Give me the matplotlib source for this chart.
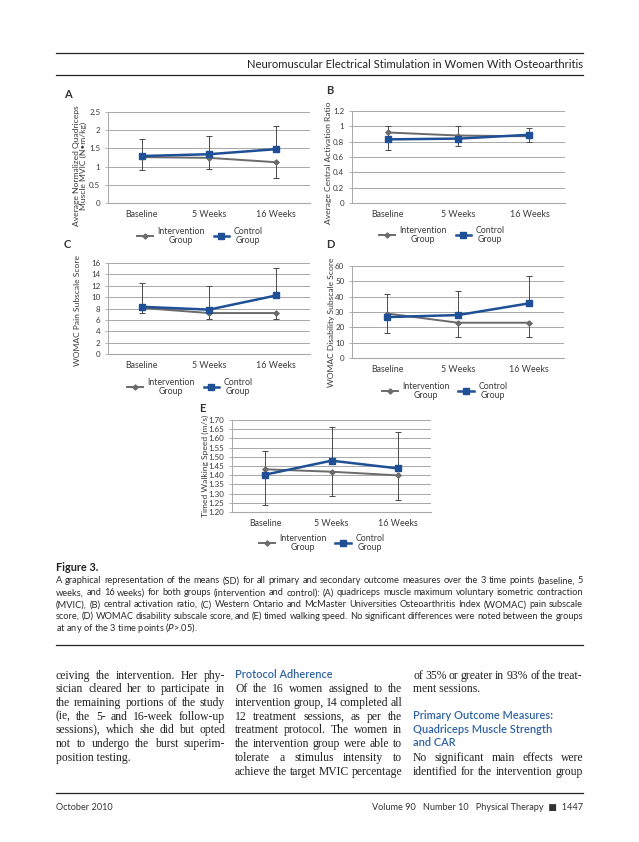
import matplotlib
matplotlib.use("Agg")
import matplotlib.pyplot as plt
from matplotlib.lines import Line2D

# ---------------- data ----------------
categories = ["Baseline", "5 Weeks", "16 Weeks"]
series_names = ["Intervention\nGroup", "Control\nGroup"]

A_int = [1.26, 1.24, 1.12]
A_int_sd = [0.34, 0.31, 0.42]
A_ctl = [1.29, 1.34, 1.48]
A_ctl_sd = [0.47, 0.49, 0.64]
A_ticks = [0, 0.5, 1, 1.5, 2, 2.5]
A_ticklabels = ["0", "0.5", "1", "1.5", "2", "2.5"]

B_int = [0.92, 0.88, 0.87]
B_int_sd = [0.235, 0.135, 0.08]
B_ctl = [0.83, 0.84, 0.89]
B_ctl_sd = [0.18, 0.16, 0.09]
B_ticks = [0, 0.2, 0.4, 0.6, 0.8, 1.0, 1.2]
B_ticklabels = ["0", "0.2", "0.4", "0.6", "0.8", "1", "1.2"]

C_int = [8.1, 7.2, 7.2]
C_int_sd = [0.95, 1.0, 1.0]
C_ctl = [8.3, 7.8, 10.3]
C_ctl_sd = [4.2, 4.1, 4.9]
C_ticks = [0, 2, 4, 6, 8, 10, 12, 14, 16]
C_ticklabels = [str(v) for v in C_ticks]

D_int = [29, 23, 23]
D_int_sd = [12.5, 9, 9]
D_ctl = [26.7, 28, 35.6]
D_ctl_sd = [15, 15.8, 17.8]
D_ticks = [0, 10, 20, 30, 40, 50, 60]
D_ticklabels = [str(v) for v in D_ticks]

E_int = [1.432, 1.419, 1.399]
E_int_sd = [0.196, 0.134, 0.136]
E_ctl = [1.403, 1.479, 1.437]
E_ctl_sd = [0.13, 0.185, 0.20]
E_ticks = [1.20, 1.25, 1.30, 1.35, 1.40, 1.45, 1.50, 1.55, 1.60, 1.65, 1.70]
E_ticklabels = ["%.2f" % v for v in E_ticks]

header_text = "Neuromuscular Electrical Stimulation in Women With Osteoarthritis"
caption_title = "Figure 3."
caption_lines = [
    "A graphical representation of the means (SD) for all primary and secondary outcome measures over the 3 time points (baseline, 5",
    "weeks, and 16 weeks) for both groups (intervention and control): (A) quadriceps muscle maximum voluntary isometric contraction",
    "(MVIC), (B) central activation ratio, (C) Western Ontario and McMaster Universities Osteoarthritis Index (WOMAC) pain subscale",
    "score, (D) WOMAC disability subscale score, and (E) timed walking speed. No significant differences were noted between the groups",
    "at any of the 3 time points ($\\mathit{P}$>.05).",
]
col1_lines = [
    "ceiving the intervention. Her phy-",
    "sician cleared her to participate in",
    "the remaining portions of the study",
    "(ie, the 5- and 16-week follow-up",
    "sessions), which she did but opted",
    "not to undergo the burst superim-",
    "position testing.",
]
col2_heading = "Protocol Adherence"
col2_lines = [
    "Of the 16 women assigned to the",
    "intervention group, 14 completed all",
    "12 treatment sessions, as per the",
    "treatment protocol. The women in",
    "the intervention group were able to",
    "tolerate a stimulus intensity to",
    "achieve the target MVIC percentage",
]
col3_lines_a = [
    "of 35% or greater in 93% of the treat-",
    "ment sessions.",
]
col3_heading = ["Primary Outcome Measures:", "Quadriceps Muscle Strength", "and CAR"]
col3_lines_b = [
    "No significant main effects were",
    "identified for the intervention group",
]
footer_left = "October 2010"
footer_right = "Volume 90   Number 10   Physical Therapy  \u25a0  1447"

# ---------------- layout ----------------
W, H = 639, 842
fig = plt.figure(figsize=(W / 100, H / 100), dpi=100)
fig.patch.set_facecolor("white")

SANS = ["Lato", "DejaVu Sans"]
SERIF = ["Liberation Serif", "DejaVu Serif"]
INT_COLOR = "#6b6b6b"
CTL_COLOR = "#1f4f94"
GRID = "#a8a8a8"
TXT = "#3a3a3a"
HEAD_BLUE = "#2f62a3"


def fx(x):
    return x / W


def fy(y):
    return 1 - y / H


def add_axes_px(left, top, right, bottom):
    return fig.add_axes([fx(left), fy(bottom), (right - left) / W, (bottom - top) / H])


def panel(box, letter, letter_xy, ylabel, ylabel_xy, vals, ticks, ticklabels, legend_xy):
    ai, ais, ac, acs = vals
    ax = add_axes_px(*box)
    xs = [i + 0.5 for i in range(len(categories))]
    zeros = [0] * len(categories)
    ax.set_xlim(0, len(categories))
    ax.set_ylim(ticks[0], ticks[-1])
    ax.set_yticks(ticks)
    ax.set_yticklabels(ticklabels, fontsize=5.8, color=TXT, family=SANS)
    ax.set_xticks(xs)
    ax.set_xticklabels(categories, fontsize=6.4, color=TXT, family=SANS)
    ax.tick_params(axis="x", length=0, pad=5)
    ax.tick_params(axis="y", length=2.5, width=0.6, color=GRID, pad=3)
    ax.grid(axis="y", color=GRID, lw=0.7)
    ax.set_axisbelow(True)
    for s in ["top", "right"]:
        ax.spines[s].set_visible(False)
    ax.spines["left"].set_color(GRID)
    ax.spines["left"].set_linewidth(0.7)
    ax.spines["bottom"].set_color(GRID)
    ax.spines["bottom"].set_linewidth(0.8)
    ax.errorbar(xs, ai, yerr=[ais, zeros], fmt="none", ecolor="#4a4a4a",
                elinewidth=0.7, capsize=2, capthick=0.7, zorder=2)
    ax.errorbar(xs, ac, yerr=[zeros, acs], fmt="none", ecolor="#4a4a4a",
                elinewidth=0.7, capsize=2, capthick=0.7, zorder=2)
    ax.plot(xs, ai, color=INT_COLOR, lw=1.4, marker="D", ms=2.6,
            mfc=INT_COLOR, mec=INT_COLOR, zorder=3)
    ax.plot(xs, ac, color=CTL_COLOR, lw=1.8, marker="s", ms=5,
            mfc=CTL_COLOR, mec=CTL_COLOR, zorder=4)
    fig.text(fx(letter_xy[0]), fy(letter_xy[1]), letter, fontsize=8, fontweight="bold",
             color="#333333", family=SANS, ha="left", va="center")
    fig.text(fx(ylabel_xy[0]), fy(ylabel_xy[1]), ylabel, fontsize=6.1, color=TXT,
             family=SANS, rotation=90, ha="center", va="center", multialignment="center",
             linespacing=1.1)
    handles = [
        Line2D([], [], color=INT_COLOR, lw=1.4, marker="D", ms=2.6),
        Line2D([], [], color=CTL_COLOR, lw=1.8, marker="s", ms=5),
    ]
    leg = ax.legend(handles, series_names, loc="center", ncol=2, frameon=False,
                    bbox_to_anchor=(fx(legend_xy[0]), fy(legend_xy[1])),
                    bbox_transform=fig.transFigure, prop={"family": SANS, "size": 6.3},
                    handlelength=1.8, handletextpad=0.5, columnspacing=1.0)
    for t in leg.get_texts():
        t.set_multialignment("center")
        t.set_color(TXT)
        t.set_linespacing(1.1)
    return ax


panel((108, 112, 310, 203), "A", (64, 94),
      "Average Normalized Quadriceps\nMuscle MVIC (N\u2022m/kg)", (80, 166),
      (A_int, A_int_sd, A_ctl, A_ctl_sd), A_ticks, A_ticklabels, (200, 236))
panel((352, 111, 565, 203), "B", (326, 90),
      "Average Central Activation Ratio", (328, 163),
      (B_int, B_int_sd, B_ctl, B_ctl_sd), B_ticks, B_ticklabels, (442, 235))
panel((108, 263, 310, 354), "C", (64, 245),
      "WOMAC Pain Subscale Score", (77, 311),
      (C_int, C_int_sd, C_ctl, C_ctl_sd), C_ticks, C_ticklabels, (190, 387))
panel((352, 266, 564, 358), "D", (326, 244),
      "WOMAC Disability Subscale Score", (332, 322),
      (D_int, D_int_sd, D_ctl, D_ctl_sd), D_ticks, D_ticklabels, (445, 391))
panel((232, 420, 431, 512), "E", (199, 408),
      "Timed Walking Speed (m/s)", (205, 466),
      (E_int, E_int_sd, E_ctl, E_ctl_sd), E_ticks, E_ticklabels, (322, 543))

# ---------------- page text ----------------
LM, RM = 56, 583
renderer = fig.canvas.get_renderer()


def hline(y, x0=LM, x1=RM, lw=0.9, color="#222222"):
    fig.add_artist(Line2D([fx(x0), fx(x1)], [fy(y), fy(y)], color=color, lw=lw,
                          transform=fig.transFigure))


_wcache = {}


def text_width(s, **kw):
    key = (s, tuple(sorted((k, str(v)) for k, v in kw.items())))
    if key not in _wcache:
        t = fig.text(0, 0, s, **kw)
        _wcache[key] = t.get_window_extent(renderer=renderer).width
        t.remove()
    return _wcache[key]


def space_width(**kw):
    return text_width("n n", **kw) - text_width("nn", **kw)


def fit_size(lines, width, min_gap=0.7, **kw):
    """Largest font size at which every line fits with gaps >= min_gap * space."""
    kw = dict(kw)
    kw["fontsize"] = 10
    sp = space_width(**kw)
    need = 0
    for l in lines:
        words = l.split()
        need = max(need, sum(text_width(w, **kw) for w in words) + (len(words) - 1) * sp * min_gap)
    return 10 * width / need


def justified(x0, x1, y, line, justify=True, **kw):
    size = kw["fontsize"]
    yb = y + size * 100 / 72 * 0.36  # baseline from visual centre
    words = line.split()
    if not justify or len(words) < 2:
        fig.text(fx(x0), fy(yb), line, ha="left", va="baseline", **kw)
        return
    widths = [text_width(w, **kw) for w in words]
    gap = (x1 - x0 - sum(widths)) / (len(words) - 1)
    x = x0
    for w, wd in zip(words, widths):
        fig.text(fx(x), fy(yb), w, ha="left", va="baseline", **kw)
        x += wd + gap


# header
hline(53)
hline(75)
fig.text(fx(RM), fy(64.5), header_text, ha="right", va="center", fontsize=8.1,
         color="#222222", family=SANS)

# caption
fig.text(fx(LM), fy(567.5), caption_title, ha="left", va="center", fontsize=7.8,
         fontweight="bold", color="#222222", family=SANS)
cap_base = dict(color="#2a2a2a", family=SANS)
cap_size = fit_size(caption_lines[:-1], RM - LM, min_gap=0.75, **cap_base)
cap_kw = dict(cap_base, fontsize=cap_size)
for i, line in enumerate(caption_lines):
    justified(LM, RM, 580 + i * 11.9, line, justify=(i < len(caption_lines) - 1), **cap_kw)

hline(644.5, lw=0.9)

# body columns
c1 = (LM, 225)
c2 = (235, 402)
c3 = (413, RM)
body_base = dict(color="#222222", family=SERIF)
body_size = min(
    fit_size(col1_lines[:-1], c1[1] - c1[0], min_gap=0.8, **body_base),
    fit_size(col2_lines, c2[1] - c2[0], min_gap=0.8, **body_base),
    fit_size(col3_lines_a[:1] + col3_lines_b, c3[1] - c3[0], min_gap=0.6, **body_base),
)
body_kw = dict(body_base, fontsize=body_size)
head_kw = dict(fontsize=7.9, color=HEAD_BLUE, family=SANS, fontweight="semibold")
y0, dy = 674.5, 13.7
for i, line in enumerate(col1_lines):
    justified(c1[0], c1[1], y0 + i * dy, line, justify=(i < len(col1_lines) - 1), **body_kw)

fig.text(fx(c2[0]), fy(y0), col2_heading, ha="left", va="center", **head_kw)
for i, line in enumerate(col2_lines):
    justified(c2[0], c2[1], y0 + (i + 1) * dy, line, justify=True, **body_kw)

for i, line in enumerate(col3_lines_a):
    justified(c3[0], c3[1], y0 + i * dy, line, justify=(i < len(col3_lines_a) - 1), **body_kw)
for i, line in enumerate(col3_heading):
    fig.text(fx(c3[0]), fy(y0 + (i + 3) * dy), line, ha="left", va="center", **head_kw)
for i, line in enumerate(col3_lines_b):
    justified(c3[0], c3[1], y0 + (i + 6) * dy, line, justify=True, **body_kw)

# footer
hline(792.5)
foot_kw = dict(fontsize=6.6, color="#333333", family=SANS)
fig.text(fx(LM), fy(807), footer_left, ha="left", va="center", **foot_kw)
fig.text(fx(RM), fy(807), footer_right, ha="right", va="center", **foot_kw)

fig.savefig("out.png", dpi=100, facecolor="white")
